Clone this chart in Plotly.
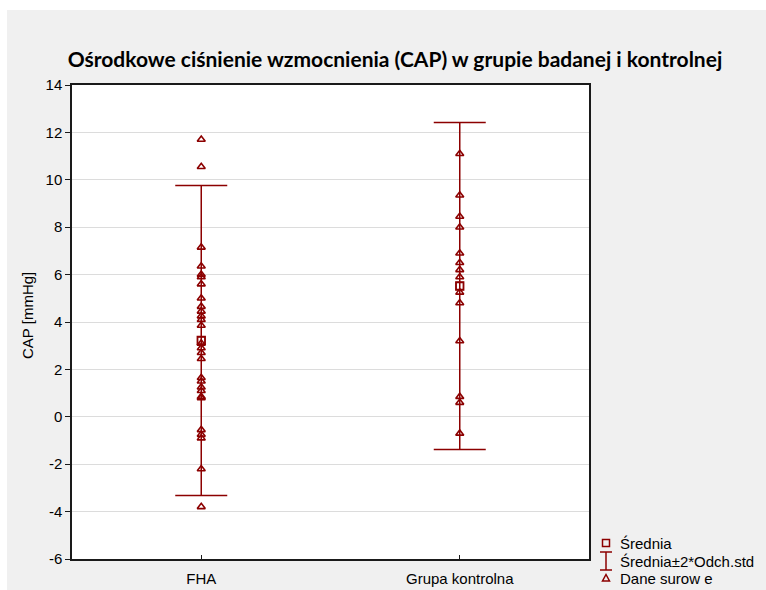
import plotly.graph_objects as go

# ---- data ----
categories = ["FHA", "Grupa kontrolna"]
fha_values = [11.7, 10.55, 7.15, 6.35, 6.0, 5.9, 5.6, 5.0, 4.65, 4.45, 4.25, 4.1, 3.85,
              3.1, 2.9, 2.7, 2.45, 1.65, 1.5, 1.25, 1.1, 0.85, 0.8, -0.55, -0.75, -0.9,
              -2.2, -3.8]
ctrl_values = [11.1, 9.35, 8.45, 8.0, 6.9, 6.5, 6.2, 5.9, 5.25, 4.8, 3.2, 0.85, 0.6, -0.7]
means = [3.22, 5.52]
sds = [3.27, 3.45]
y_ticks = [-6, -4, -2, 0, 2, 4, 6, 8, 10, 12, 14]

title_text = "Ośrodkowe ciśnienie wzmocnienia (CAP) w grupie badanej i kontrolnej"
y_title = "CAP [mmHg]"
legend_labels = ["Średnia", "Średnia±2*Odch.std", "Dane surow e"]

# ---- style / layout ----
W, H = 766, 590
L, R, T, B = 72, 589, 85, 559
RED = "#8c0000"
FONT = "Arial, 'Liberation Sans', sans-serif"
FS = 15


def px(xp):
    return (xp - L) / (R - L)


def py(yp):
    return (B - yp) / (B - T)


fig = go.Figure()

# means with +-2 SD error bars
fig.add_trace(go.Scatter(
    x=categories, y=means, mode="markers",
    marker=dict(symbol="square-open", size=7, color=RED, line=dict(width=1.3, color=RED)),
    error_y=dict(type="data", array=[2 * s for s in sds], symmetric=True,
                 color=RED, thickness=1.5, width=26),
    showlegend=False, hoverinfo="skip"))

# raw data
for cat, vals in zip(categories, [fha_values, ctrl_values]):
    fig.add_trace(go.Scatter(
        x=[cat] * len(vals), y=vals, mode="markers",
        marker=dict(symbol="triangle-up-open", size=7, color=RED,
                    line=dict(width=1.6, color=RED)),
        showlegend=False))

# re-draw mean squares on top
fig.add_trace(go.Scatter(
    x=categories, y=means, mode="markers",
    marker=dict(symbol="square-open", size=8, color=RED, line=dict(width=1.3, color=RED)),
    showlegend=False, hoverinfo="skip"))

shapes = []
# white strips at the top and left edges of the picture
shapes.append(dict(type="rect", xref="paper", yref="paper", x0=px(0), x1=px(W),
                   y0=py(10), y1=py(0), fillcolor="white", line=dict(width=0), layer="above"))
shapes.append(dict(type="rect", xref="paper", yref="paper", x0=px(0), x1=px(7),
                   y0=py(H), y1=py(0), fillcolor="white", line=dict(width=0), layer="above"))

# manual legend
lx = 606
rows = [543, 561, 578]
# square
shapes.append(dict(type="rect", xref="paper", yref="paper",
                   x0=px(lx - 3.5), x1=px(lx + 3.5), y0=py(rows[0] + 3.5), y1=py(rows[0] - 3.5),
                   line=dict(color=RED, width=1.5), fillcolor="rgba(0,0,0,0)"))
# I-beam
for (a, b_, c, d) in [(lx, rows[1] - 9, lx, rows[1] + 9),
                      (lx - 6, rows[1] - 9, lx + 6, rows[1] - 9),
                      (lx - 6, rows[1] + 9, lx + 6, rows[1] + 9)]:
    shapes.append(dict(type="line", xref="paper", yref="paper",
                       x0=px(a), y0=py(b_), x1=px(c), y1=py(d),
                       line=dict(color=RED, width=1.5)))
# triangle
ty = rows[2]
shapes.append(dict(type="path", xref="paper", yref="paper",
                   path=f"M {px(lx-3.5)} {py(ty+3)} L {px(lx+3.5)} {py(ty+3)} L {px(lx)} {py(ty-3.5)} Z",
                   line=dict(color=RED, width=1.5), fillcolor="rgba(0,0,0,0)"))

annotations = []
for lab, ry in zip(legend_labels, rows):
    annotations.append(dict(text=lab, xref="paper", yref="paper", x=px(618), y=py(ry),
                            xanchor="left", yanchor="middle", showarrow=False,
                            font=dict(family=FONT, size=FS, color="black")))
annotations.append(dict(text=y_title, xref="paper", yref="paper", x=px(27), y=py(316),
                        xanchor="center", yanchor="middle", textangle=-90, showarrow=False,
                        font=dict(family=FONT, size=FS, color="black")))

fig.update_layout(
    width=W, height=H,
    margin=dict(l=L, r=W - R, t=T, b=H - B, pad=0, autoexpand=False),
    paper_bgcolor="#f0f0f0", plot_bgcolor="white",
    title=dict(text=f"<b>{title_text}</b>", x=395 / W, xref="container", xanchor="center",
               y=1 - 60 / H, yref="container", yanchor="middle",
               font=dict(family="Lato, Open Sans, sans-serif", size=21, color="black")),
    shapes=shapes, annotations=annotations,
    showlegend=False,
    xaxis=dict(type="category", range=[-0.5, 1.5], showgrid=False, automargin=False,
               showline=True, linecolor="#1a1a1a", linewidth=1.5, mirror=True,
               ticks="inside", ticklen=4, tickcolor="#1a1a1a", ticklabelstandoff=5,
               tickfont=dict(family=FONT, size=FS, color="black"), zeroline=False),
    yaxis=dict(range=[-6, 14], tickvals=y_ticks, ticktext=[str(v) for v in y_ticks],
               showgrid=True, gridcolor="#dcdcdc", gridwidth=1, automargin=False,
               showline=True, linecolor="#1a1a1a", linewidth=1.5, mirror=True,
               ticks="outside", ticklen=5, tickcolor="#1a1a1a",
               tickfont=dict(family=FONT, size=FS, color="black"), zeroline=False),
)

fig.write_html("out.html")
